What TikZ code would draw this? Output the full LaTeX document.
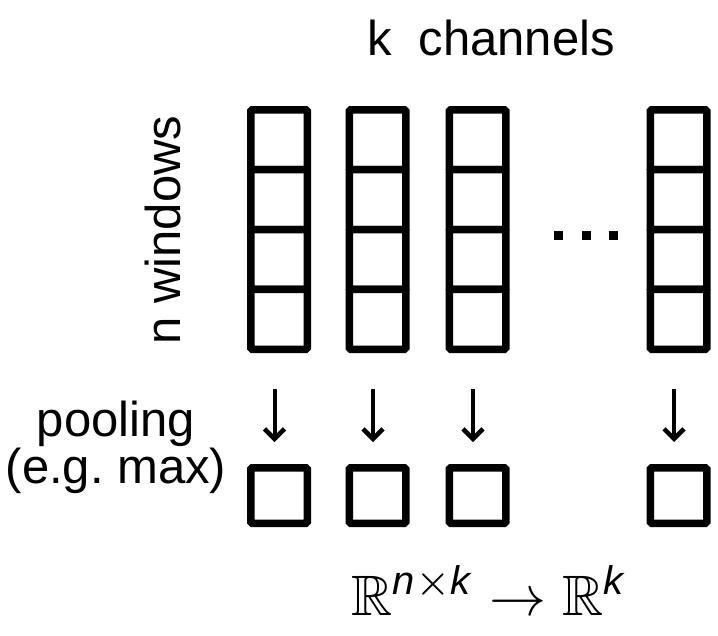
\documentclass[tikz,border=0pt]{standalone}
\usepackage{amsmath,amssymb,graphicx}
\usepackage{fontspec}
\setmainfont{Liberation Sans}
\usetikzlibrary{arrows.meta,shadows}
\begin{document}
\begin{tikzpicture}[x=1pt,y=-1pt,
  cell/.style={draw,fill=white,line width=7.5pt,minimum width=56.5pt,minimum height=59.9pt,inner sep=0pt,rounded corners=1.5pt,
    drop shadow={shadow xshift=0pt,shadow yshift=-2.5pt,opacity=0.15,fill=black}},
  pbox/.style={cell,minimum height=55.5pt},
  arr/.style={line width=4pt,-{Straight Barb[length=10pt,width=20pt,line width=4.5pt]},shorten <=36pt,shorten >=22pt},
  lbl/.style={font=\fontsize{49}{43}\selectfont,inner sep=0pt,anchor=base},
  dot/.style={fill=black}]
\useasboundingbox (0,0) rectangle (718,635);
\node[lbl] (kch) at (491,55) {k\ \ channels};
\node[lbl,rotate=90] (nwin) at (180,230) {n windows};
\node[lbl,align=center] (pool) at (116,483) {pooling\\(e.g.\ max)};
\foreach \i/\x in {1/279,2/377.5,3/477.5,4/678.5} {
  \foreach \j/\y in {1/139.7,2/199.6,3/259.5,4/319.3} {
    \node[cell] (c\i-\j) at (\x,\y) {};
  }
  \node[pbox] (p\i) at (\x,495.5) {};
  \draw[arr] ([xshift=-4.5pt]c\i-4.south) -- ([xshift=-4.5pt]p\i.north);
}
\foreach \x in {558,586,613} {
  \fill[dot] (\x-4.5,230.5) rectangle (\x+4.5,239.5);
}
\node[inner sep=0pt,anchor=base] (map) at (489,615)
  {\scalebox{5.7}{$\mathbb{R}^{\text{\itshape n}\times\text{\itshape k}}\to\mathbb{R}^{\text{\itshape k}}$}};
\end{tikzpicture}
\end{document}
